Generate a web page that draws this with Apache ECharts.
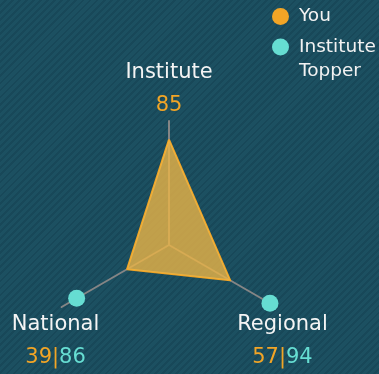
<!DOCTYPE html>
<html>
<head>
<meta charset="utf-8">
<script src="https://cdn.jsdelivr.net/npm/echarts@6/dist/echarts.min.js"></script>
<style>
  html, body { margin: 0; padding: 0; }
  body {
    width: 379px; height: 374px; overflow: hidden;
    background-color: #1c5061;
    background-image: repeating-linear-gradient(135deg,
      #1c5061 0px, #1c5061 3px, #184859 3px, #184859 5px);
  }
  #chart { width: 379px; height: 374px; }
</style>
</head>
<body>
<div id="chart"></div>
<script>
  // Score categories and the two series compared on the radar
  const categories = ['Institute', 'National', 'Regional'];
  const youScores = [85, 39, 57];
  const topperScores = ['-', 86, 94];
  const seriesNames = ['You', 'Institute Topper'];
  const maxScore = 100;

  const ORANGE = '#f2a526';
  const TEAL = '#66ddd2';
  const FONT = 'DejaVu Sans';

  const CENTER = [169, 245];
  const RADIUS = 124;

  const chart = echarts.init(document.getElementById('chart'), null, { renderer: 'canvas' });

  const indicator = categories.map(name => ({ name: name, max: maxScore }));

  // Axis name: category on the first line, scores underneath
  function nameFormatter(name) {
    const i = categories.indexOf(name);
    const top = topperScores[i];
    let line = '{you|' + youScores[i] + '}';
    if (top !== '-' && top != null) {
      line += '{sep||}{top|' + top + '}';
    }
    return '{name|' + name + '}\n' + line;
  }

  // Legend: two-word names wrap; a blank first line keeps the icon beside the first word
  function legendFormatter(name) {
    const parts = name.split(' ');
    if (parts.length > 1) {
      return '{gap| }\n{t|' + parts[0] + '}\n{t|' + parts.slice(1).join(' ') + '}';
    }
    return '{t|' + name + '}';
  }

  const valueStyle = { fontFamily: FONT, fontSize: 21, lineHeight: 16, align: 'center' };

  chart.setOption({
    backgroundColor: 'transparent',
    legend: {
      orient: 'vertical',
      left: 268,
      top: 3,
      padding: 4,
      icon: 'circle',
      itemWidth: 27,
      itemHeight: 17,
      itemGap: -8,
      data: seriesNames,
      formatter: legendFormatter,
      textStyle: {
        color: '#f2f2f2',
        fontFamily: FONT,
        fontSize: 18.5,
        rich: {
          t: { color: '#f2f2f2', fontFamily: FONT, fontSize: 18.5, lineHeight: 24 },
          gap: { fontSize: 10, lineHeight: 24 }
        }
      }
    },
    polar: {
      center: CENTER,
      radius: RADIUS
    },
    angleAxis: {
      type: 'category',
      data: categories,
      boundaryGap: false,
      startAngle: 90,
      clockwise: false,
      show: false
    },
    radiusAxis: {
      type: 'value',
      min: 0,
      max: maxScore,
      show: false
    },
    radar: {
      center: CENTER,
      radius: RADIUS,
      startAngle: 90,
      shape: 'polygon',
      indicator: indicator,
      nameGap: 7,
      axisName: {
        formatter: nameFormatter,
        align: 'center',
        padding: [44, 0, 0, 0],
        rich: {
          name: { color: '#f4f4f4', fontFamily: FONT, fontSize: 21, lineHeight: 51, align: 'center' },
          you: Object.assign({ color: ORANGE }, valueStyle),
          sep: Object.assign({ color: ORANGE }, valueStyle),
          top: Object.assign({ color: TEAL }, valueStyle)
        }
      },
      axisLine: { lineStyle: { color: '#858585', width: 2 } },
      splitLine: { show: false },
      splitArea: { show: false }
    },
    series: [
      {
        type: 'radar',
        silent: true,
        z: 2,
        data: [{
          name: seriesNames[0],
          value: youScores,
          symbol: 'none',
          itemStyle: { color: ORANGE },
          lineStyle: { color: ORANGE, width: 2 },
          areaStyle: { color: 'rgba(235, 180, 70, 0.8)', opacity: 1 }
        }]
      },
      {
        // Topper scores as dots on the same axes
        name: seriesNames[1],
        type: 'scatter',
        coordinateSystem: 'polar',
        silent: true,
        z: 3,
        symbol: 'circle',
        symbolSize: 17,
        itemStyle: { color: TEAL, opacity: 1 },
        data: categories.map((c, i) => [topperScores[i], c])
      }
    ]
  });
</script>
</body>
</html>
